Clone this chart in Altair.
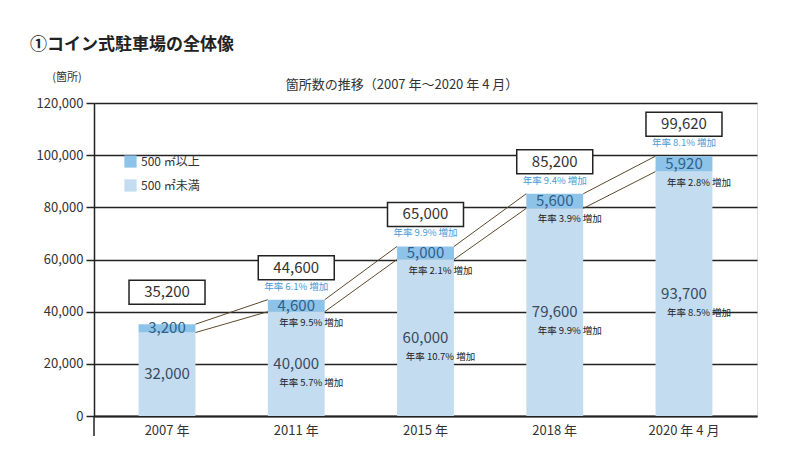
import altair as alt
import pandas as pd

years = ["2007 年", "2011 年", "2015 年", "2018 年", "2020 年 4 月"]
small = [32000, 40000, 60000, 79600, 93700]
large = [3200, 4600, 5000, 5600, 5920]
total = [35200, 44600, 65000, 85200, 99620]
total_rate = ["", "年率 6.1% 増加", "年率 9.9% 増加", "年率 9.4% 増加", "年率 8.1% 増加"]
large_rate = ["", "年率 9.5% 増加", "年率 2.1% 増加", "年率 3.9% 増加", "年率 2.8% 増加"]
small_rate = ["", "年率 5.7% 増加", "年率 10.7% 増加", "年率 9.9% 増加", "年率 8.5% 増加"]
seg_names = ["500 ㎡以上", "500 ㎡未満"]
y_ticks = [0, 20000, 40000, 60000, 80000, 100000, 120000]

FONT = "Noto Sans CJK JP"
C_LARGE = "#8dc3e8"
C_SMALL = "#c4dcf0"

df = pd.DataFrame({
    "year": years, "small": small, "large": large, "total": total,
    "total_rate": total_rate, "large_rate": large_rate, "small_rate": small_rate,
})
df["small_lbl"] = [f"{v:,}" for v in small]
df["large_lbl"] = [f"{v:,}" for v in large]
df["total_lbl"] = [f"{v:,}" for v in total]

links = pd.DataFrame({
    "year": years[:-1], "next": years[1:],
    "total": total[:-1], "next_total": total[1:],
    "small": small[:-1], "next_small": small[1:],
})

xscale = alt.Scale(domain=years, paddingInner=0.56, paddingOuter=0.345)
yscale = alt.Scale(domain=[0, 120000], nice=False)
cscale = alt.Scale(domain=seg_names, range=[C_LARGE, C_SMALL])

X = alt.X("year:N", scale=xscale, sort=years,
          axis=alt.Axis(title=None, labelAngle=0, ticks=False, labelFontSize=13,
                        labelColor="#333333", labelFont=FONT, domainColor="#222222",
                        domainWidth=2, labelPadding=8, grid=False))
Yax = alt.Axis(title=None, values=y_ticks, format=",d", labelFontSize=13,
               labelColor="#333333", labelFont=FONT,
               tickColor="#222222", tickSize=8, tickWidth=1.5, domainColor="#222222",
               domainWidth=1.5, grid=True, gridColor="#222222", gridWidth=1.5,
               labelPadding=3)

base = alt.Chart(df)

lower = base.transform_calculate(seg="'500 ㎡未満'", zero="0").mark_bar().encode(
    x=X,
    y=alt.Y("small:Q", scale=yscale, axis=Yax),
    y2=alt.Y2("zero:Q"),
    color=alt.Color("seg:N", scale=cscale, title=None,
                    legend=alt.Legend(orient="none", legendX=30, legendY=52,
                                      symbolType="square", symbolSize=150,
                                      symbolStrokeWidth=0, labelFontSize=12,
                                      labelFont=FONT, labelColor="#333333",
                                      rowPadding=11, padding=0)),
)

upper = base.transform_calculate(seg="'500 ㎡以上'").mark_bar().encode(
    x=X, y=alt.Y("total:Q", scale=yscale, axis=Yax), y2="small:Q",
    color=alt.Color("seg:N", scale=cscale),
)

line_style = dict(color="#5b4b2b", strokeWidth=1, xOffset=28.5, x2Offset=-28.5)
link_top = alt.Chart(links).mark_rule(**line_style).encode(
    x=alt.X("year:N", scale=xscale), x2="next:N",
    y=alt.Y("total:Q", scale=yscale, axis=Yax), y2="next_total:Q")
link_bot = alt.Chart(links).mark_rule(**line_style).encode(
    x=alt.X("year:N", scale=xscale), x2="next:N",
    y=alt.Y("small:Q", scale=yscale, axis=Yax), y2="next_small:Q")

box_shape = "M-1,-0.316H1V0.316H-1Z"
boxes = base.mark_point(shape=box_shape, size=5776, filled=True, fill="white",
                        stroke="#222222", strokeWidth=1.5, opacity=1, yOffset=-32).encode(
    x=alt.X("year:N", scale=xscale), y=alt.Y("total:Q", scale=yscale, axis=Yax))
box_text = base.mark_text(fontSize=15, font=FONT, color="#333333", dy=-32,
                          baseline="middle").encode(
    x=alt.X("year:N", scale=xscale), y=alt.Y("total:Q", scale=yscale, axis=Yax),
    text="total_lbl:N")
total_rate_t = base.mark_text(fontSize=9.5, font=FONT, color="#4a9bd6", dy=-13,
                              baseline="middle").encode(
    x=alt.X("year:N", scale=xscale), y=alt.Y("total:Q", scale=yscale, axis=Yax),
    text="total_rate:N")

large_text = base.transform_calculate(mid="datum.small + datum.large / 2").mark_text(
    fontSize=15, font=FONT, color="#2f5f8c", baseline="middle").encode(
    x=alt.X("year:N", scale=xscale), y=alt.Y("mid:Q", scale=yscale, axis=Yax),
    text="large_lbl:N")
large_rate_t = base.mark_text(fontSize=9.5, font=FONT, color="#222222", dy=11, dx=15,
                              baseline="middle").encode(
    x=alt.X("year:N", scale=xscale), y=alt.Y("small:Q", scale=yscale, axis=Yax),
    text="large_rate:N")

small_text = base.transform_calculate(mid="datum.small / 2").mark_text(
    fontSize=15, font=FONT, color="#3a4a5e", baseline="middle").encode(
    x=alt.X("year:N", scale=xscale), y=alt.Y("mid:Q", scale=yscale, axis=Yax),
    text="small_lbl:N")
small_rate_t = base.transform_calculate(mid="datum.small / 2").mark_text(
    fontSize=9.5, font=FONT, color="#222222", dy=19, dx=15, baseline="middle").encode(
    x=alt.X("year:N", scale=xscale), y=alt.Y("mid:Q", scale=yscale, axis=Yax),
    text="small_rate:N")

title_df = pd.DataFrame({"t": ["①コイン式駐車場の全体像"]})
main_title = alt.Chart(title_df).mark_text(fontSize=17, font=FONT, fontWeight="bold",
                                           color="#222222", align="left", baseline="middle").encode(
    x=alt.value(-64), y=alt.value(-58), text="t:N")
unit_df = pd.DataFrame({"t": ["(箇所)"]})
unit = alt.Chart(unit_df).mark_text(fontSize=11, font=FONT, color="#333333",
                                    baseline="middle").encode(
    x=alt.value(-27), y=alt.value(-25), text="t:N")
sub_df = pd.DataFrame({"t": ["箇所数の推移（2007 年～2020 年 4 月）"]})
sub = alt.Chart(sub_df).mark_text(fontSize=13, font=FONT, color="#333333",
                                  baseline="middle").encode(
    x=alt.value(308), y=alt.value(-18), text="t:N")
axis_ext = alt.Chart(unit_df).mark_rule(color="#222222", strokeWidth=1.5).encode(
    x=alt.value(0), y=alt.value(313), y2=alt.value(333))

chart = alt.layer(
    lower, upper, link_top, link_bot, boxes, box_text, total_rate_t,
    large_text, large_rate_t, small_text, small_rate_t,
    main_title, unit, sub, axis_ext,
).properties(
    width=663, height=313,
    autosize=alt.AutoSizeParams(type="none"),
    padding={"left": 86, "top": 95, "right": 20, "bottom": 30},
).configure_view(fill="#fefbe1", stroke=None).configure_axisY(
    format=",d").configure(font=FONT)

chart.save("out.html", embed_options={"renderer": "svg", "actions": False})
